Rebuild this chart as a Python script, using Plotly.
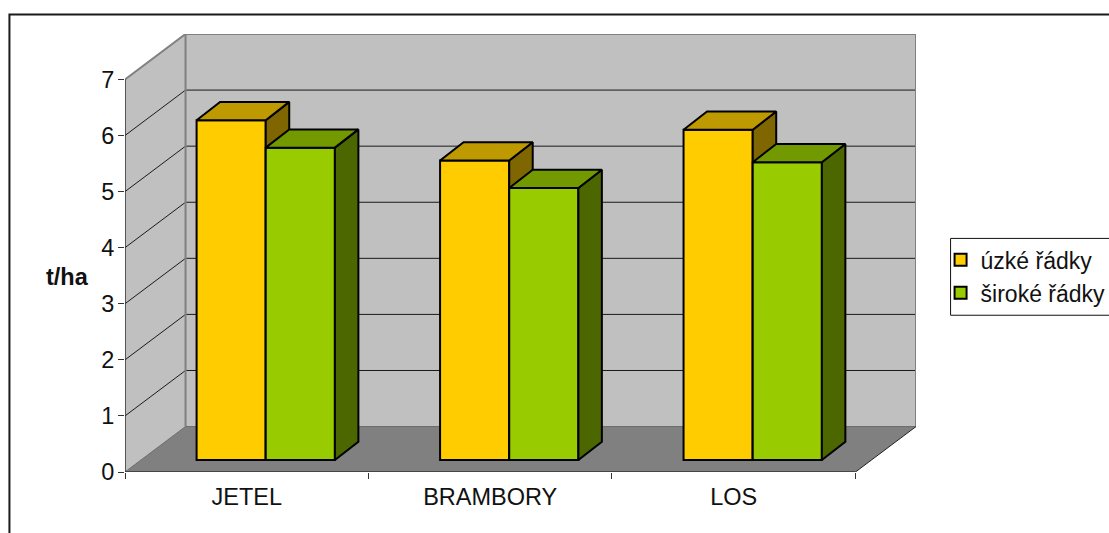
import plotly.graph_objects as go

# Yield per crop and row spacing
categories = ["JETEL", "BRAMBORY", "LOS"]
uzke_radky = [6.06, 5.34, 5.89]
siroke_radky = [5.57, 4.85, 5.31]
series_names = ["úzké řádky", "široké řádky"]
y_ticks = [0, 1, 2, 3, 4, 5, 6, 7]
axis_title = "t/ha"

# Oblique projection, in axis units
WALL_DX, WALL_DY = 0.2486, 0.81
BAR_DX, BAR_DY = 0.0965, 0.3256
BAR_SHIFT, BAR_BASE = 0.078, 0.2135
BAR_W = 0.284
N = len(categories)
Y_MAX = y_ticks[-1]

FONT = "Liberation Sans, Arial, sans-serif"
TEXT = "#111111"
FONT_SIZE = 23.5
LEGEND_FONT_SIZE = 23


def poly(points, fill, line="rgba(0,0,0,0)", width=0):
    return dict(type="path", path="M" + " L".join(f"{x},{y}" for x, y in points) + " Z",
                fillcolor=fill, line=dict(color=line, width=width), layer="below",
                xref="x", yref="y")


def stroke(points, color, width):
    return dict(type="path", path="M" + " L".join(f"{x},{y}" for x, y in points),
                line=dict(color=color, width=width), layer="below", xref="x", yref="y")


shapes = [
    poly([(WALL_DX, WALL_DY), (WALL_DX + N, WALL_DY), (WALL_DX + N, WALL_DY + Y_MAX), (WALL_DX, WALL_DY + Y_MAX)], "#C0C0C0"),
    poly([(0, 0), (WALL_DX, WALL_DY), (WALL_DX, WALL_DY + Y_MAX), (0, Y_MAX)], "#C0C0C0"),
    poly([(0, 0), (N, 0), (N + WALL_DX, WALL_DY), (WALL_DX, WALL_DY)], "#808080"),
]
for v in y_ticks[1:-1]:
    shapes.append(stroke([(0, v), (WALL_DX, v + WALL_DY), (WALL_DX + N, v + WALL_DY)], "#1a1a1a", 1))
shapes += [
    stroke([(0, Y_MAX), (WALL_DX, WALL_DY + Y_MAX), (WALL_DX + N, WALL_DY + Y_MAX), (WALL_DX + N, WALL_DY)], "#808080", 2),
    stroke([(WALL_DX, WALL_DY + Y_MAX), (WALL_DX, WALL_DY)], "#808080", 2),
    stroke([(0, 0), (WALL_DX, WALL_DY), (WALL_DX + N, WALL_DY)], "#6a6a6a", 1),
    stroke([(N, 0), (N + WALL_DX, WALL_DY)], "#222222", 1),
    stroke([(0, Y_MAX), (0, 0), (N, 0)], "#333333", 1.5),
]
# Chart frame, running off the right and bottom of the page
shapes.append(dict(type="path", xref="paper", yref="paper",
                   path="M-0.1461,-0.2 L-0.1461,1.0444 L1.3,1.0444",
                   line=dict(color="#1a1a1a", width=2)))
# Legend box, also running off the right of the page
shapes.append(dict(type="rect", xref="paper", yref="paper", x0=1.0437, x1=1.3, y0=0.3579, y1=0.5333,
                   line=dict(color="#111111", width=1)))


def column_traces(values, offset, front, top, side, name, group, xa, ya):
    lefts = [i + BAR_SHIFT + 0.5 + offset for i in range(N)]
    bar = go.Bar(x=[l + BAR_W / 2 for l in lefts], y=values, base=[BAR_BASE] * N, width=BAR_W,
                 marker=dict(color=front, line=dict(color="black", width=2)),
                 name=name, legendgroup=group, xaxis=xa, yaxis=ya, hoverinfo="skip")
    sx, sy, tx, ty = [], [], [], []
    for l, v in zip(lefts, values):
        r = l + BAR_W
        h = BAR_BASE + v
        sx += [r, r + BAR_DX, r + BAR_DX, r, r, None]
        sy += [BAR_BASE, BAR_BASE + BAR_DY, h + BAR_DY, h, BAR_BASE, None]
        tx += [l, r, r + BAR_DX, l + BAR_DX, l, None]
        ty += [h, h, h + BAR_DY, h + BAR_DY, h, None]
    style = dict(mode="lines", fill="toself", line=dict(color="black", width=2),
                 showlegend=False, hoverinfo="skip", xaxis=xa, yaxis=ya)
    return [bar,
            go.Scatter(x=sx, y=sy, fillcolor=side, **style),
            go.Scatter(x=tx, y=ty, fillcolor=top, **style)]


fig = go.Figure()
fig.add_traces(column_traces(uzke_radky, -BAR_W, "#FFCC00", "#BF9900", "#7F6600",
                             series_names[0], "uzke", "x", "y"))
fig.add_traces(column_traces(siroke_radky, 0, "#99CC00", "#739900", "#4C6600",
                             series_names[1], "siroke", "x2", "y2"))

x_range = [0, N + WALL_DX]
y_range = [0, Y_MAX + WALL_DY]

fig.update_layout(
    width=1109, height=533, autosize=False,
    margin=dict(l=125, r=193.3, t=33.5, b=60.7, autoexpand=False),
    paper_bgcolor="white", plot_bgcolor="white",
    font=dict(family=FONT, size=FONT_SIZE, color=TEXT),
    barmode="overlay",
    shapes=shapes,
    xaxis=dict(range=x_range, tickmode="array", tickvals=[i + 0.5 for i in range(N)], ticktext=categories,
               ticks="", showgrid=False, zeroline=False, showline=False, ticklabelstandoff=8,
               tickfont=dict(size=FONT_SIZE, color=TEXT),
               minor=dict(tickmode="array", tickvals=list(range(N + 1)), ticks="outside", ticklen=6,
                          tickcolor="#333333", tickwidth=1, showgrid=False)),
    yaxis=dict(range=y_range, tickmode="array", tickvals=y_ticks, ticks="outside", ticklen=6,
               tickcolor="#333333", showgrid=False, zeroline=False, showline=False,
               ticklabelstandoff=-1, tickfont=dict(size=FONT_SIZE, color=TEXT)),
    xaxis2=dict(range=x_range, overlaying="x", visible=False),
    yaxis2=dict(range=y_range, overlaying="y", visible=False),
    legend=dict(x=1.0437, y=0.5333, xanchor="left", yanchor="top", bgcolor="rgba(0,0,0,0)",
                borderwidth=0, font=dict(size=LEGEND_FONT_SIZE, color=TEXT), indentation=-10,
                traceorder="normal", tracegroupgap=20),
    annotations=[dict(text=f"<b>{axis_title}</b>", xref="paper", yref="paper", x=-0.0732, y=0.4452,
                      xanchor="center", yanchor="middle", showarrow=False,
                      font=dict(size=FONT_SIZE, color=TEXT))],
)

fig.write_html("out.html")
